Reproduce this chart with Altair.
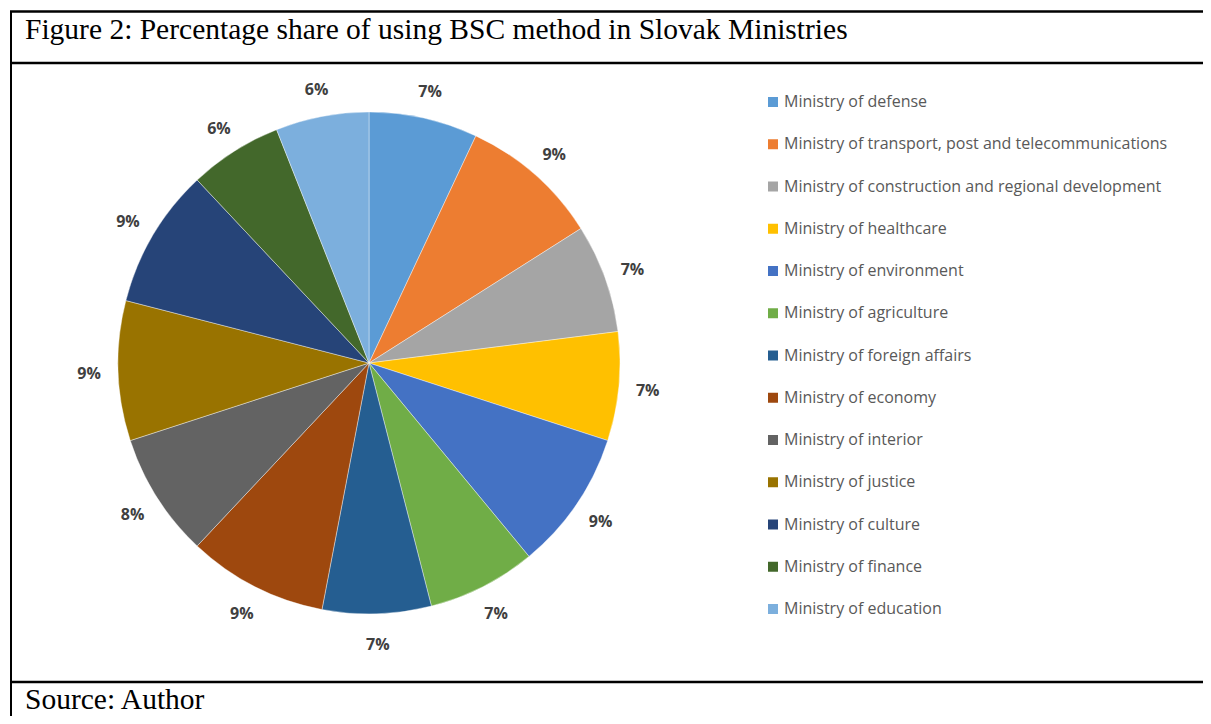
import altair as alt
import pandas as pd

# ---- data ----
ministries = [
    "Ministry of defense",
    "Ministry of transport, post and telecommunications",
    "Ministry of construction and regional development",
    "Ministry of healthcare",
    "Ministry of environment",
    "Ministry of agriculture",
    "Ministry of foreign affairs",
    "Ministry of economy",
    "Ministry of interior",
    "Ministry of justice",
    "Ministry of culture",
    "Ministry of finance",
    "Ministry of education",
]
shares = [7, 9, 7, 7, 9, 7, 7, 9, 8, 9, 9, 6, 6]
colors = [
    "#5B9BD5", "#ED7D31", "#A5A5A5", "#FFC000", "#4472C4", "#70AD47",
    "#255E91", "#9E480E", "#636363", "#997300", "#264478", "#43682B", "#7CAFDD",
]
title_text = "Figure 2: Percentage share of using BSC method in Slovak Ministries"
source_text = "Source: Author"

df = pd.DataFrame({
    "ministry": ministries,
    "share": shares,
    "idx": list(range(len(ministries))),
    "label": [f"{v}%" for v in shares],
})
one = pd.DataFrame({"k": [0]})

W, H = 1195, 708
CX, CY = 361, 355

pie = alt.Chart(df).mark_arc(outerRadius=251, stroke="white", strokeWidth=0.4).encode(
    theta=alt.Theta("share:Q", stack=True),
    order=alt.Order("idx:Q", sort="ascending"),
    color=alt.Color(
        "ministry:N",
        scale=alt.Scale(domain=ministries, range=colors),
        legend=alt.Legend(
            title=None,
            orient="none",
            legendX=757,
            legendY=86,
            symbolType="square",
            symbolSize=100,
            symbolStrokeWidth=0,
            labelFont="Open Sans",
            labelFontSize=16,
            labelColor="#595959",
            labelOffset=3,
            labelLimit=600,
            rowPadding=26.25,
        ),
    ),
    x=alt.value(CX),
    y=alt.value(CY),
)

labels = alt.Chart(df).mark_text(
    radius=280, dy=2, font="Open Sans", fontSize=16, fontWeight="bold", color="#404040"
).encode(
    theta=alt.Theta("share:Q", stack=True),
    order=alt.Order("idx:Q", sort="ascending"),
    text="label:N",
    x=alt.value(CX),
    y=alt.value(CY),
)

frame_v = alt.Chart(one).mark_rule(color="black", strokeWidth=2).encode(
    x=alt.value(3), y=alt.value(3), y2=alt.value(H)
)
frame_top = alt.Chart(one).mark_rule(color="black", strokeWidth=2.5).encode(
    x=alt.value(2), x2=alt.value(W), y=alt.value(3.5)
)
frame_mid = alt.Chart(one).mark_rule(color="black", strokeWidth=2.5).encode(
    x=alt.value(2), x2=alt.value(W), y=alt.value(55)
)
frame_bot = alt.Chart(one).mark_rule(color="black", strokeWidth=2.5).encode(
    x=alt.value(2), x2=alt.value(W), y=alt.value(674)
)

title = alt.Chart(one).mark_text(
    align="left", baseline="alphabetic", font="Liberation Serif", fontSize=29.5, color="black"
).encode(x=alt.value(17), y=alt.value(31), text=alt.value(title_text))

source = alt.Chart(one).mark_text(
    align="left", baseline="alphabetic", font="Liberation Serif", fontSize=29.5, color="black"
).encode(x=alt.value(17), y=alt.value(701), text=alt.value(source_text))

chart = alt.layer(pie, labels, frame_v, frame_top, frame_mid, frame_bot, title, source).properties(
    width=W, height=H, autosize=alt.AutoSizeParams(type="none"), padding=0
).configure_view(stroke=None)

chart.save("out.html", embed_options={"renderer": "svg", "actions": False})
